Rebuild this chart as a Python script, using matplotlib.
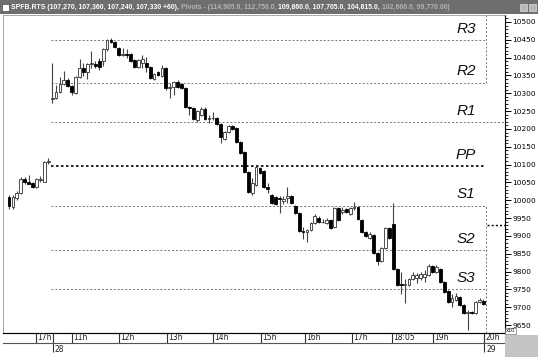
import matplotlib
matplotlib.use('Agg')
import matplotlib.pyplot as plt
import numpy as np
from matplotlib.patches import Rectangle

# 5-minute candles, SPFB.RTS (previous evening + session of the 28th)
opens = [10010, 9980, 10005, 10020, 10060, 10050, 10048, 10037, 10057, 10052, 10107,
         10285, 10287, 10304, 10326, 10337, 10320, 10300, 10346, 10371, 10360,
         10382, 10382, 10390, 10390, 10424, 10450, 10444, 10427, 10407, 10410,
         10410, 10393, 10374, 10385, 10385, 10374, 10340, 10360, 10348, 10371,
         10315, 10318, 10332, 10326, 10315, 10262, 10259, 10225, 10239, 10256,
         10228, 10230, 10231, 10214, 10172, 10191, 10208, 10203, 10163, 10135,
         10079, 10020, 10042, 10090, 10082, 10037, 10015, 10009, 10006, 9998,
         10006, 10012, 9984, 9964, 9914, 9911, 9917, 9936, 9950, 9939,
         9936, 9945, 9925, 9978, 9967, 9975, 9961, 9978, 9981, 9945,
         9911, 9894, 9903, 9852, 9830, 9866, 9922, 9933, 9807, 9765,
         9763, 9762, 9779, 9782, 9782, 9784, 9790, 9815, 9799, 9807,
         9771, 9745, 9715, 9720, 9729, 9706, 9684, 9686, 9684, 9715, 9718]
highs = [10015, 10015, 10025, 10065, 10065, 10070, 10052, 10062, 10068, 10110, 10118,
         10385, 10323, 10346, 10363, 10343, 10323, 10349, 10396, 10385, 10385,
         10418, 10390, 10399, 10427, 10453, 10455, 10447, 10430, 10427, 10424,
         10413, 10396, 10396, 10407, 10401, 10377, 10357, 10363, 10379, 10374,
         10329, 10335, 10337, 10329, 10318, 10265, 10262, 10253, 10262, 10262,
         10239, 10248, 10234, 10217, 10194, 10211, 10211, 10205, 10166, 10138,
         10082, 10062, 10096, 10093, 10085, 10048, 10018, 10012, 10012, 10012,
         10037, 10015, 9987, 9967, 9925, 9920, 9939, 9961, 9956, 9947,
         9950, 9947, 9981, 9981, 9981, 9978, 9981, 9995, 9984, 9947,
         9914, 9911, 9906, 9855, 9869, 9925, 9925, 9992, 9810, 9798,
         9779, 9782, 9798, 9795, 9798, 9804, 9821, 9818, 9818, 9810,
         9773, 9748, 9737, 9740, 9732, 9709, 9692, 9689, 9718, 9726, 9723]
lows = [9975, 9975, 10000, 10018, 10045, 10045, 10035, 10035, 10052, 10050, 10101,
        10272, 10284, 10300, 10323, 10318, 10295, 10298, 10343, 10349, 10340,
        10371, 10371, 10365, 10376, 10420, 10440, 10427, 10404, 10404, 10399,
        10387, 10371, 10371, 10371, 10360, 10340, 10337, 10348, 10345, 10310,
        10287, 10295, 10315, 10312, 10259, 10239, 10225, 10220, 10236, 10225,
        10217, 10225, 10211, 10161, 10169, 10188, 10197, 10160, 10130, 10076,
        10020, 10015, 10040, 10073, 10034, 10020, 9990, 9987, 9964, 9990,
        9992, 9990, 9961, 9911, 9891, 9883, 9914, 9933, 9936, 9936,
        9933, 9919, 9922, 9942, 9961, 9964, 9958, 9972, 9944, 9908,
        9897, 9891, 9849, 9819, 9827, 9863, 9891, 9804, 9760, 9737,
        9712, 9760, 9776, 9768, 9776, 9770, 9787, 9796, 9796, 9768,
        9740, 9712, 9700, 9717, 9703, 9681, 9636, 9680, 9681, 9712, 9706]
closes = [9985, 10010, 10020, 10060, 10050, 10046, 10037, 10060, 10060, 10107, 10110,
          10287, 10304, 10326, 10337, 10320, 10304, 10346, 10371, 10360, 10382,
          10385, 10377, 10374, 10424, 10450, 10444, 10430, 10407, 10410, 10407,
          10390, 10374, 10393, 10396, 10374, 10343, 10354, 10351, 10371, 10315,
          10318, 10332, 10318, 10315, 10262, 10260, 10228, 10250, 10256, 10228,
          10230, 10231, 10214, 10177, 10191, 10208, 10200, 10163, 10133, 10079,
          10023, 10048, 10093, 10076, 10037, 10032, 9992, 9990, 10004, 10004,
          10012, 9992, 9964, 9914, 9912, 9917, 9936, 9956, 9939, 9940,
          9945, 9922, 9978, 9945, 9972, 9967, 9978, 9981, 9947, 9911,
          9900, 9905, 9852, 9830, 9866, 9922, 9894, 9807, 9762, 9763,
          9765, 9779, 9790, 9790, 9793, 9793, 9815, 9799, 9813, 9771,
          9743, 9715, 9726, 9731, 9706, 9684, 9686, 9684, 9715, 9720, 9710]

pivot_names = ['R3', 'R2', 'R1', 'PP', 'S1', 'S2', 'S3']
pivot_levels = [10450, 10330, 10220, 10095, 9985, 9860, 9750]
last_price = 9930

hour_labels = ['17h', '11h', '12h', '13h', '14h', '15h', '16h', '17h', '18:05', '19h', '20h']
hour_pos = [6.9, 16.1, 28.1, 40.3, 52.0, 64.3, 75.5, 87.5, 97.7, 108.2, 121.2]
day_labels = ['28', '29']
day_pos = [11.2, 121.2]

W, H = 538, 357
fig = plt.figure(figsize=(W / 100, H / 100), dpi=100)
fig.patch.set_facecolor('white')

def fx(px):
    return px / W

def fy(py):
    return 1 - py / H

x_left, x_right = -1.53, 126.5
ax = fig.add_axes([fx(3), fy(333), fx(505 - 3), fy(15) - fy(333)])
ax.set_xlim(x_left, x_right)
ax.set_ylim(9627.6, 10519.6)

idx = np.arange(len(opens))
o = np.array(opens); c = np.array(closes)
ax.vlines(idx, lows, highs, color='#444444', linewidth=0.8, zorder=2)
up = c >= o
body_bot = np.minimum(o, c)
body_h = np.abs(c - o)
ax.bar(idx[up], body_h[up], bottom=body_bot[up], width=0.72, color='white',
       edgecolor='#333333', linewidth=0.6, zorder=3)
ax.bar(idx[~up], body_h[~up], bottom=body_bot[~up], width=0.72, color='black',
       edgecolor='black', linewidth=0.6, zorder=3)

# pivot levels
for name, lvl in zip(pivot_names, pivot_levels):
    if name == 'PP':
        ax.hlines(lvl, 10.6, 121.6, colors='black', linestyles=(0, (1.5, 1.5)), linewidth=1.2, zorder=1)
    else:
        ax.hlines(lvl, 10.6, 121.6, colors='#777777', linestyles=(0, (2, 2)), linewidth=0.7, zorder=1)
    ax.text(119.0, lvl + 12, name, fontsize=11, style='italic', family='Liberation Sans',
            ha='right', va='bottom', color='#111111')

ax.vlines(121.6, pivot_levels[1], 10519.6, colors='#777777', linestyles=(0, (2, 2)), linewidth=0.7)
ax.vlines(121.6, 9627.6, pivot_levels[4], colors='#777777', linestyles=(0, (2, 2)), linewidth=0.7)
ax.hlines(pivot_levels[2], 121.6, x_right, colors='#777777', linestyles=(0, (2, 2)), linewidth=0.7)
ax.hlines(last_price, 122.0, x_right, colors='black', linestyles=(0, (1.5, 1.5)), linewidth=1.0)

# price axis on the right
ax.yaxis.tick_right()
ax.set_yticks(np.arange(9650, 10501, 50))
ax.set_yticks(np.arange(9630, 10520, 10), minor=True)
ax.tick_params(axis='y', which='major', length=4, width=0.7, labelsize=5.3, pad=1.5, colors='black')
ax.tick_params(axis='y', which='minor', length=2, width=0.6)
ax.set_xticks([])
for s in ['top', 'left']:
    ax.spines[s].set_color('#999999')
    ax.spines[s].set_linewidth(0.6)
ax.spines['right'].set_linewidth(0.8)
ax.spines['bottom'].set_linewidth(0.8)
ax.spines['bottom'].set_color('#555555')

# time strip
tax = fig.add_axes([fx(3), fy(343), fx(505 - 3), fy(333) - fy(343)])
tax.set_xlim(x_left, x_right)
tax.set_ylim(0, 1)
tax.set_xticks([]); tax.set_yticks([])
tax.patch.set_alpha(0)
for s in ['left', 'right']:
    tax.spines[s].set_visible(False)
tax.spines['top'].set_linewidth(0.8)
tax.spines['bottom'].set_linewidth(0.8)
tax.spines['bottom'].set_color('#555555')
for lab, p in zip(hour_labels, hour_pos):
    tax.vlines(p, 0, 1, colors='#333333', linewidth=0.8)
    tax.text(p + 0.35, 0.5, lab, fontsize=5.5, va='center', ha='left', color='#222222')
for lab, p in zip(day_labels, day_pos):
    tax.vlines(p, -0.9, 1, colors='#333333', linewidth=0.8, clip_on=False)
    tax.text(p + 0.5, -0.7, lab, fontsize=5.5, va='center', ha='left', color='#222222')
tax.vlines(x_right, 0, 1, colors='#333333', linewidth=0.8)

# grey corner box and scale tag
fig.patches.append(Rectangle((fx(505), 0), fx(33), fy(335), transform=fig.transFigure,
                             facecolor='#c4c4c4', edgecolor='none'))
fig.text(fx(506), fy(331), 'x10', fontsize=3.5, va='center', ha='left',
         bbox=dict(boxstyle='square,pad=0.12', facecolor='white', edgecolor='#555555', linewidth=0.4))

# title bar
fig.patches.append(Rectangle((0, fy(14)), 1, fy(0) - fy(14), transform=fig.transFigure,
                             facecolor='#6e6e6e', edgecolor='none'))
fig.patches.append(Rectangle((fx(2), fy(11)), fx(7), fy(4) - fy(11), transform=fig.transFigure,
                             facecolor='white', edgecolor='#333333', linewidth=0.4))
for px in [520, 529]:
    fig.patches.append(Rectangle((fx(px), fy(11)), fx(7), fy(4) - fy(11), transform=fig.transFigure,
                                 facecolor='#b8b8b8', edgecolor='#eeeeee', linewidth=0.4))
pieces = [('SPFB.RTS (107,270, 107,360, 107,240, 107,330 +60), ', 'white'),
          ('Pivots - (114,905.0, 112,750.0, ', '#b4b4b4'),
          ('109,860.0, 107,705.0, 104,815.0, ', 'white'),
          ('102,660.0, 99,770.00)', '#b4b4b4')]
renderer = fig.canvas.get_renderer()

# measure at a trial size, then scale so the line ends near x=455 px like the reference
trial = 6.0
total = 0
for txt, col in pieces:
    t = fig.text(0, 0, txt, fontsize=trial, fontweight='bold', family='Liberation Sans')
    total += t.get_window_extent(renderer=renderer).width
    t.remove()
size = trial * (455 - 11) / total
xpos = fx(11)
for txt, col in pieces:
    t = fig.text(xpos, fy(7.5), txt, fontsize=size, fontweight='bold', color=col,
                 va='center', ha='left', family='Liberation Sans')
    xpos += t.get_window_extent(renderer=renderer).width / fig.bbox.width

fig.savefig('out.png', dpi=100)
